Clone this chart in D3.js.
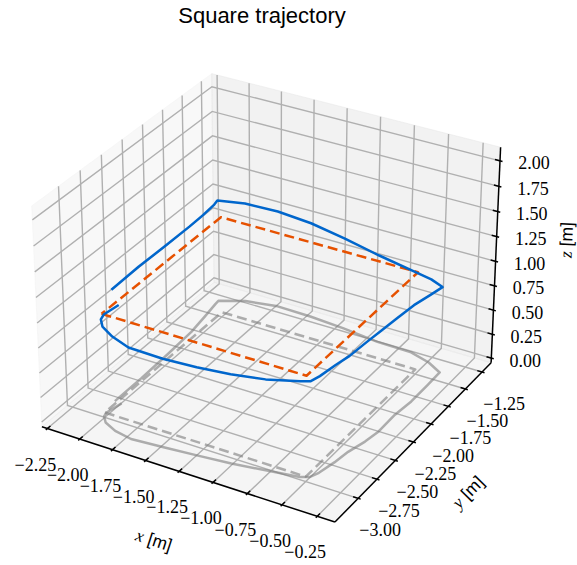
<!DOCTYPE html>
<html><head><meta charset="utf-8">
<script src="https://cdn.jsdelivr.net/npm/d3@7"></script>
<style>body{margin:0;background:#fff}svg{display:block}</style>
</head><body>
<svg id="chart" width="577" height="565"></svg>
<script>
// ---------------- data ----------------
const chartTitle = "Square trajectory";
const xTicks = [-2.25, -2.0, -1.75, -1.5, -1.25, -1.0, -0.75, -0.5, -0.25];
const yTicks = [-3.0, -2.75, -2.5, -2.25, -2.0, -1.75, -1.5, -1.25];
const zTicks = [0, 0.25, 0.5, 0.75, 1.0, 1.25, 1.5, 1.75, 2.0];
const xLim = [-2.292, -0.125];
const yLim = [-3.303, -1.113];
const zLim = [-0.05, 2.132];

// reference square (dashed)
const refX = [-2.0, -0.5, -0.5, -2.0, -2.0];
const refY = [-3.0, -3.0, -1.5, -1.5, -3.0];
const refZ = [1.0, 1.0, 1.0, 1.0, 1.0];

// measured trajectory (solid)
const trajX = [-1.965, -1.99, -1.98, -1.93, -1.823, -1.683, -1.444, -1.211, -0.981, -0.754, -0.531, -0.475,
  -0.45, -0.423, -0.406, -0.370, -0.351, -0.354, -0.337, -0.338, -0.341,
  -0.4625, -0.625, -0.886, -1.17, -1.444, -1.707, -1.936, -2.10,
  -2.095, -2.07, -2.044, -2.03, -2.02, -2.018];
const trajY = [-2.85, -2.99, -3.04, -3.10, -3.153, -3.184, -3.161, -3.135, -3.107, -3.065, -3.022, -2.99,
  -2.92, -2.766, -2.614, -2.453, -2.302, -2.07, -1.872, -1.640, -1.453,
  -1.376, -1.318, -1.311, -1.268, -1.243, -1.235, -1.285, -1.377,
  -1.427, -1.618, -1.834, -2.17, -2.513, -2.849];
const trajZ = [1.00, 0.99, 0.98, 0.97, 0.95, 0.92, 0.89, 0.885, 0.89, 0.905, 0.95, 0.95,
  0.96, 0.97, 0.96, 1.0, 1.01, 0.98, 0.98, 0.925, 0.88,
  0.86, 0.845, 0.90, 0.94, 0.98, 1.0, 1.03, 1.06,
  1.05, 1.07, 1.10, 1.12, 1.14, 1.13];
const shadowZ = 0;

// ---------------- projection (matplotlib-like 3D view) ----------------
const elev = 30, azim = -60, camDist = 10;
const boxAspect = [4, 4, 3].map(d => d * 1.8294640721620434 / Math.sqrt(41));
const sx = d3.scaleLinear().domain(xLim).range([-boxAspect[0] / 2, boxAspect[0] / 2]);
const sy = d3.scaleLinear().domain(yLim).range([-boxAspect[1] / 2, boxAspect[1] / 2]);
const sz = d3.scaleLinear().domain(zLim).range([-boxAspect[2] / 2, boxAspect[2] / 2]);
const er = elev * Math.PI / 180, ar = azim * Math.PI / 180;
const dot = (a, b) => a[0] * b[0] + a[1] * b[1] + a[2] * b[2];
const cross = (a, b) => [a[1] * b[2] - a[2] * b[1], a[2] * b[0] - a[0] * b[2], a[0] * b[1] - a[1] * b[0]];
const W = [Math.cos(er) * Math.cos(ar), Math.cos(er) * Math.sin(ar), Math.sin(er)];
let U = cross([0, 0, 1], W); const un = Math.hypot(...U); U = U.map(d => d / un);
const V = cross(W, U);
const scr = d3.scaleLinear().domain([0, 1]).range([270.5, 270.5 + 2938]);
const scrY = d3.scaleLinear().domain([0, 1]).range([287.5, 287.5 - 2938]);
function P(x, y, z) {
  const q = [sx(x), sy(y), sz(z)];
  const d = camDist - dot(W, q);
  return [scr(dot(U, q) / d), scrY(dot(V, q) / d)];
}

const svg = d3.select("#chart");
const line = d3.line();

// ---------------- panes ----------------
const [x0, x1] = xLim, [y0, y1] = yLim, [z0, z1] = zLim;
const panes = [
  {pts: [[x0, y0, z0], [x0, y1, z0], [x0, y1, z1], [x0, y0, z1]], c: "rgba(242,242,242,0.5)"},
  {pts: [[x0, y1, z0], [x1, y1, z0], [x1, y1, z1], [x0, y1, z1]], c: "rgba(230,230,230,0.5)"},
  {pts: [[x0, y0, z0], [x1, y0, z0], [x1, y1, z0], [x0, y1, z0]], c: "rgba(236,236,236,0.5)"}
];
svg.append("g").selectAll("path").data(panes).join("path")
  .attr("d", p => line(p.pts.map(d => P(...d))) + "Z")
  .attr("fill", p => p.c).attr("stroke", p => p.c).attr("stroke-width", 1);

// ---------------- grid ----------------
const grid = svg.append("g").attr("fill", "none").attr("stroke", "#b0b0b0").attr("stroke-width", 1.4);
xTicks.forEach(t => grid.append("path").attr("d", line([[t, y0, z0], [t, y1, z0], [t, y1, z1]].map(d => P(...d)))));
yTicks.forEach(t => grid.append("path").attr("d", line([[x1, t, z0], [x0, t, z0], [x0, t, z1]].map(d => P(...d)))));
zTicks.forEach(t => grid.append("path").attr("d", line([[x0, y0, t], [x0, y1, t], [x1, y1, t]].map(d => P(...d)))));

// ---------------- axes ----------------
const ax = svg.append("g").attr("stroke", "#000").attr("stroke-width", 1.5).attr("fill", "none");
ax.append("path").attr("d", line([P(x0, y0, z0), P(x1, y0, z0)]));
ax.append("path").attr("d", line([P(x1, y0, z0), P(x1, y1, z0)]));
ax.append("path").attr("d", line([P(x1, y1, z0), P(x1, y1, z1)]));
const dX = (x1 - x0) / 12, dY = (y1 - y0) / 12;
xTicks.forEach(t => ax.append("path").attr("d", line([P(t, y0 - 0.1 * dY, z0), P(t, y0 + 0.2 * dY, z0)])));
yTicks.forEach(t => ax.append("path").attr("d", line([P(x1 + 0.1 * dX, t, z0), P(x1 - 0.2 * dX, t, z0)])));
zTicks.forEach(t => ax.append("path").attr("d", line([P(x1 + 0.1 * dX, y1, t), P(x1 - 0.2 * dX, y1, t)])));

// ---------------- tick labels ----------------
const fmt = d => (d < 0 ? "\u2212" : "") + Math.abs(d).toFixed(2);
const tl = svg.append("g").attr("font-family", "'Liberation Serif','Times New Roman',serif")
  .attr("font-size", 18).attr("fill", "#000").attr("text-anchor", "middle").attr("dominant-baseline", "central");
xTicks.forEach(t => { const p = P(t, y0, z0); tl.append("text").attr("x", p[0] - 12).attr("y", p[1] + 36).text(fmt(t)); });
yTicks.forEach(t => { const p = P(x1, t, z0); tl.append("text").attr("x", p[0] + 22).attr("y", p[1] + 32).text(fmt(t)); });
zTicks.forEach(t => { const p = P(x1, y1, t); tl.append("text").attr("x", p[0] + 34).attr("y", p[1] + 2.5).text(fmt(t)); });

// ---------------- axis labels ----------------
function axisLabel(varName, mid, off, ang) {
  const g = svg.append("text")
    .attr("transform", `translate(${mid[0] + off[0]},${mid[1] + off[1]}) rotate(${ang})`)
    .attr("text-anchor", "middle").attr("dominant-baseline", "central").attr("font-size", 17.5);
  g.append("tspan").attr("font-family", "'Liberation Serif',serif").attr("font-style", "italic").text(varName);
  g.append("tspan").attr("font-family", "'Liberation Sans',Arial,sans-serif").text(" [m]");
}
const angOf = (a, b) => Math.atan2(b[1] - a[1], b[0] - a[0]) * 180 / Math.PI;
let aX = angOf(P(x0, y0, z0), P(x1, y0, z0));
let aY = angOf(P(x1, y0, z0), P(x1, y1, z0));
let aZ = angOf(P(x1, y1, z0), P(x1, y1, z1));
const norm = a => (a > 90 ? a - 180 : (a < -90 ? a + 180 : a));
axisLabel("x", P((x0 + x1) / 2, y0, z0), [-30.7, 66.8], norm(aX));
axisLabel("y", P(x1, (y0 + y1) / 2, z0), [51.6, 53], norm(aY));
axisLabel("z", P(x1, y1, (z0 + z1) / 2), [70.5, -17.3], norm(aZ));

// ---------------- data lines ----------------
const lines = svg.append("g").attr("fill", "none").attr("stroke-linejoin", "round");
const trajShadow = trajX.map((x, i) => P(x, trajY[i], shadowZ));
const refShadow = refX.map((x, i) => P(x, refY[i], shadowZ));
lines.append("path").attr("d", line(trajShadow)).attr("stroke", "#808080").attr("stroke-opacity", 0.62).attr("stroke-width", 2.5);
lines.append("path").attr("d", line(refShadow)).attr("stroke", "#808080").attr("stroke-opacity", 0.62).attr("stroke-width", 2.5).attr("stroke-dasharray", "10,5");
lines.append("path").attr("d", line(refX.map((x, i) => P(x, refY[i], refZ[i])))).attr("stroke", "#e65100").attr("stroke-width", 2.5).attr("stroke-dasharray", "10,5");
lines.append("path").attr("d", line(trajX.map((x, i) => P(x, trajY[i], trajZ[i])))).attr("stroke", "#0066cc").attr("stroke-width", 2.5);

// ---------------- title ----------------
svg.append("text").attr("x", 262).attr("y", 22.5).attr("text-anchor", "middle")
  .attr("font-family", "'Liberation Sans',Arial,sans-serif").attr("font-size", 22).attr("fill", "#000").text(chartTitle);
</script>
</body></html>
